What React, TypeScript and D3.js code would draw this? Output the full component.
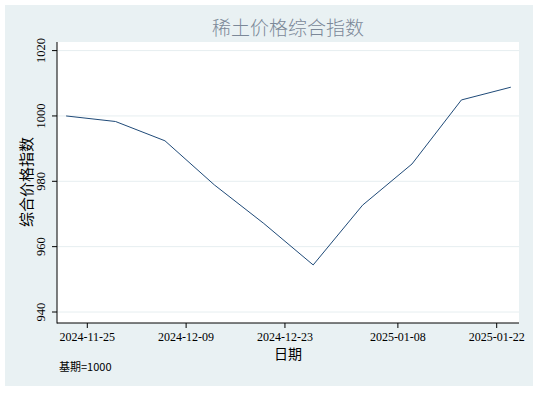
import React from 'react'
import { scaleLinear, scaleTime, line, timeParse } from 'd3'

const dates = ['2024-11-22', '2024-11-29', '2024-12-06', '2024-12-13', '2024-12-20', '2024-12-27', '2025-01-03', '2025-01-10', '2025-01-17', '2025-01-24']
const values = [1000, 998.3, 992.4, 978.9, 967.1, 954.4, 972.7, 985.3, 1004.9, 1008.8]
const xTicks = ['2024-11-25', '2024-12-09', '2024-12-23', '2025-01-08', '2025-01-22']
const yTicks = [940, 960, 980, 1000, 1020]

const W = 538
const H = 394
const margin = { left: 57, right: 519, top: 42, bottom: 323 }
const parse = timeParse('%Y-%m-%d')
const serif = '"Liberation Serif", "DejaVu Serif", serif'
const cjk = '"Noto Sans CJK SC", sans-serif'

function App() {
  const x = scaleTime()
    .domain([parse('2024-11-25'), parse('2025-01-22')])
    .range([87.3, 496.7])
  const y = scaleLinear().domain([940, 1020]).range([312, 50.6])

  const data = dates.map((d, i) => ({ date: parse(d), value: values[i] }))
  const path = line<any>()
    .x(d => x(d.date))
    .y(d => y(d.value))(data)

  return (
    <svg width={W} height={H} style={{ position: 'absolute', left: 0, top: 0 }}>
      <rect x={0} y={0} width={W} height={H} fill="#fff" />
      <rect x={5} y={5} width={528} height={381} fill="#e9f1f3" />
      <rect
        x={margin.left}
        y={margin.top}
        width={margin.right - margin.left}
        height={margin.bottom - margin.top}
        fill="#fff"
      />
      <text x={288} y={35} textAnchor="middle" fontFamily={cjk} fontSize={19} fill="#7b8898" fontWeight={300}>
        稀土价格综合指数
      </text>

      {yTicks.map(t => (
        <g key={t}>
          <line x1={margin.left} x2={margin.right} y1={y(t)} y2={y(t)} stroke="#e6eef0" strokeWidth={1} />
          <line x1={margin.left - 5} x2={margin.left} y1={y(t)} y2={y(t)} stroke="#000" />
          <text
            transform={`translate(45,${y(t)}) rotate(-90)`}
            textAnchor="middle"
            fontFamily={serif}
            fontSize={12.5}
            fill="#000"
          >
            {t}
          </text>
        </g>
      ))}

      {xTicks.map(t => (
        <g key={t}>
          <line x1={x(parse(t))} x2={x(parse(t))} y1={margin.bottom} y2={margin.bottom + 5} stroke="#000" />
          <text x={x(parse(t))} y={341} textAnchor="middle" fontFamily={serif} fontSize={12} fill="#000">
            {t}
          </text>
        </g>
      ))}

      <line x1={margin.left} x2={margin.left} y1={margin.top} y2={margin.bottom + 0.5} stroke="#000" />
      <line x1={margin.left} x2={margin.right} y1={margin.bottom} y2={margin.bottom} stroke="#000" />

      <path d={path} fill="none" stroke="#1f4a78" strokeWidth={1} />

      <text
        transform="translate(32,182) rotate(-90)"
        textAnchor="middle"
        fontFamily={cjk}
        fontSize={15}
        fill="#000"
      >
        综合价格指数
      </text>
      <text x={288} y={359} textAnchor="middle" fontFamily={cjk} fontSize={14} fill="#000">
        日期
      </text>
      <text x={59} y={371} fontFamily={cjk} fontSize={11} fill="#000">
        基期=1000
      </text>
    </svg>
  )
}

export default App
